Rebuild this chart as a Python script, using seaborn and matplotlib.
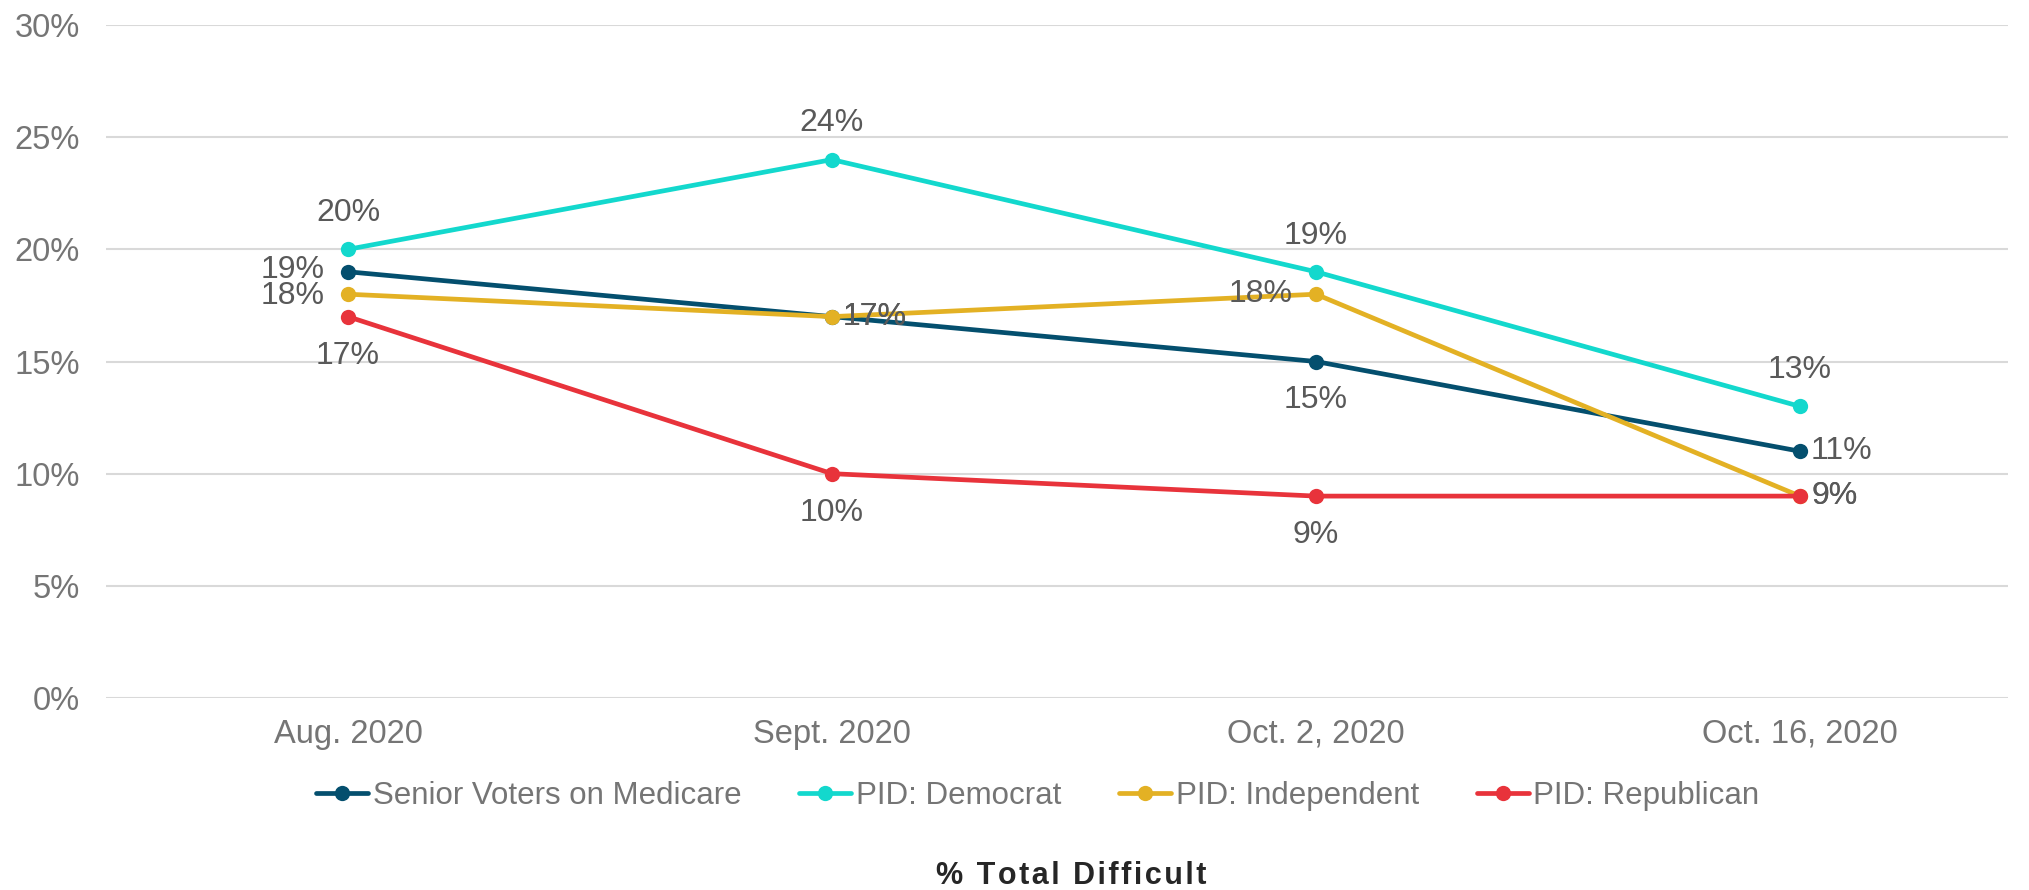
import matplotlib
matplotlib.use("Agg")
import matplotlib.pyplot as plt
import seaborn as sns
import pandas as pd

categories = ["Aug. 2020", "Sept. 2020", "Oct. 2, 2020", "Oct. 16, 2020"]
series_names = ["Senior Voters on Medicare", "PID: Democrat", "PID: Independent", "PID: Republican"]
senior = [0.19, 0.17, 0.15, 0.11]
democrat = [0.20, 0.24, 0.19, 0.13]
independent = [0.18, 0.17, 0.18, 0.09]
republican = [0.17, 0.10, 0.09, 0.09]
yticks = [0, 0.05, 0.10, 0.15, 0.20, 0.25, 0.30]
ytick_labels = ["0%", "5%", "10%", "15%", "20%", "25%", "30%"]
title = "% Total Difficult"

colors = ["#044F6E", "#13D8CD", "#E3B124", "#E8333B"]
# label placement per series / point: direction
label_dirs = [
    ["left_hi", "right", "below", "right"],
    ["above", "above", "above", "above"],
    ["left_lo", "right", "left", "right"],
    ["below", "below", "below", "right"],
]

values = [senior, democrat, independent, republican]
rows = []
for name, vals in zip(series_names, values):
    for c, v in zip(categories, vals):
        rows.append({"period": c, "value": v, "series": name})
df = pd.DataFrame(rows)

sns.set_theme(style="white")
plt.rcParams["font.family"] = ["Liberation Sans", "DejaVu Sans"]

FS = 23.5
fig = plt.figure(figsize=(20.29, 8.90), dpi=100)
ax = fig.add_axes([106 / 2029, 1 - 698 / 890, (2008 - 106) / 2029, (698 - 25) / 890])

sns.lineplot(data=df, x="period", y="value", hue="series", palette=colors,
             hue_order=series_names, marker="o", markersize=11, markeredgewidth=0,
             linewidth=3.4, sort=False, ax=ax)

ax.set_ylim(0, 0.30)
ax.set_xlim(-0.5, 3.43)
ax.set_yticks(yticks)
ax.set_yticklabels(ytick_labels)
ax.yaxis.grid(True, color="#D9D9D9", linewidth=1.5)
ax.xaxis.grid(False)
ax.set_axisbelow(True)
for s in ax.spines.values():
    s.set_visible(False)
ax.tick_params(axis="y", length=0, pad=19, labelsize=FS, labelcolor="#757575")
ax.tick_params(axis="x", length=0, pad=15, labelsize=FS, labelcolor="#757575")
ax.set_xlabel("")
ax.set_ylabel("")

offsets = {"above": ((0, 26), "center", "center"),
           "below": ((0, -28), "center", "center"),
           "left": ((-17, 0), "right", "center"),
           "left_hi": ((-17, 1.5), "right", "center"),
           "left_lo": ((-17, -1.5), "right", "center"),
           "right": ((8, 0), "left", "center")}
for vals, dirs in zip(values, label_dirs):
    for i, (v, d) in enumerate(zip(vals, dirs)):
        off, ha, va = offsets[d]
        ax.annotate(f"{round(v * 100)}%", (i, v), xytext=off, textcoords="offset points",
                    ha=ha, va=va, fontsize=23, color="#595959")

handles, labels = ax.get_legend_handles_labels()
ax.get_legend().remove()
fig.legend(handles, labels, loc="center", bbox_to_anchor=(1038 / 2029, 1 - 796 / 890),
           ncol=4, frameon=False, fontsize=22.5, labelcolor="#757575",
           handlelength=1.66, handletextpad=0.15, columnspacing=1.85)

spaced_title = "\u200a".join(title)
fig.text(1071 / 2029, 1 - 876 / 890, spaced_title, ha="center", va="center",
         fontsize=22, fontweight="bold", color="#262626")

fig.savefig("out.png", dpi=100)
